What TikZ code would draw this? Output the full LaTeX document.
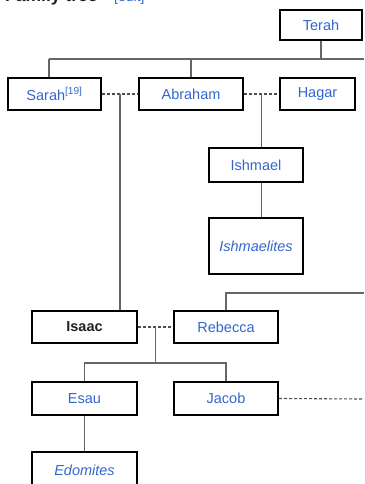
\documentclass[tikz,border=0pt]{standalone}
\usepackage{xcolor}
\usepackage{fontspec}
\setmainfont{Liberation Sans}
\usepackage{tikz}
\usetikzlibrary{positioning, calc}
\definecolor{linkblue}{HTML}{3366CC}
\definecolor{wikigray}{HTML}{666666}
\definecolor{darktext}{HTML}{202122}

\begin{document}
\begin{tikzpicture}[x=1pt, y=-1pt,
	box/.style = {draw=black, line width=2pt, rectangle, inner sep=0pt, text=linkblue, font=\fontsize{14.5}{17}\selectfont},
	line/.style = {draw=wikigray, line width=1.1pt},
	spouse/.style = {draw=darktext!80, line width=1.1pt, dash pattern=on 3pt off 2pt}]
	\clip (0,0) rectangle (364,484);
	\useasboundingbox (0,0) rectangle (364,484);

	\node[anchor=base west, font=\bfseries\fontsize{17.5}{20}\selectfont, text=darktext, inner sep=0pt] (title) at (5,1.5) {Family tree};
	\node[anchor=base west, font=\fontsize{14}{16}\selectfont, text=linkblue, inner sep=0pt] (edit) at (114,1.5) {[edit]};

	\node[box, minimum width=82pt, minimum height=30pt] (terah) at (321,25) {Terah};
	\node[box, minimum width=93pt, minimum height=32pt] (sarah) at (54.5,94) {Sarah\textsuperscript{[19]}};
	\node[box, minimum width=104pt, minimum height=32pt] (abraham) at (191,94) {Abraham};
	\node[box, minimum width=75pt, minimum height=32pt] (hagar) at (317.5,94) {Hagar};
	\node[box, minimum width=94pt, minimum height=34pt] (ishmael) at (256,165) {Ishmael};
	\node[box, minimum width=94pt, minimum height=56pt] (ishmaelites) at (256,246) {\itshape Ishmaelites};
	\node[box, minimum width=105pt, minimum height=32pt, text=darktext, font=\bfseries\fontsize{14.5}{17}\selectfont] (isaac) at (84.5,327) {Isaac};
	\node[box, minimum width=104pt, minimum height=32pt] (rebecca) at (226,327) {Rebecca};
	\node[box, minimum width=105pt, minimum height=33pt] (esau) at (84.5,398.5) {Esau};
	\node[box, minimum width=104pt, minimum height=33pt] (jacob) at (226,398.5) {Jacob};
	\node[box, minimum width=105pt, minimum height=36pt] (edomites) at (84.5,470) {\itshape Edomites};

	\coordinate (bar1) at (49,59);
	\coordinate (bar1end) at (364,59);
	\coordinate (bar2) at (364,293);
	\coordinate (bar3) at (155.5,363);
	\coordinate (jacobend) at (364,399);
	\coordinate (m1) at ($(sarah.east)!0.5!(abraham.west)$);
	\coordinate (m2) at ($(abraham.east)!0.5!(hagar.west)$);
	\coordinate (m3) at ($(isaac.east)!0.5!(rebecca.west)$);

	\draw[line] (bar1) -- (bar1end);
	\draw[line] (terah.south) -- (terah.south |- bar1);
	\draw[line] (bar1) -- (bar1 |- sarah.north);
	\draw[line] (abraham.north) -- (abraham.north |- bar1);

	\draw[spouse] (sarah.east) -- (abraham.west);
	\draw[spouse] (abraham.east) -- (hagar.west);
	\draw[line] (m1) -- (m1 |- isaac.north);
	\draw[line] (m2) -- (m2 |- ishmael.north);
	\draw[line] (ishmael.south -| m2) -- (ishmaelites.north -| m2);

	\draw[line] (rebecca.north) |- (bar2);
	\draw[spouse] (isaac.east) -- (rebecca.west);
	\draw[line] (m3) -- (bar3);
	\draw[line] (esau.north) |- (bar3) -| (jacob.north);
	\draw[line] (esau.south) -- (edomites.north);
	\draw[spouse] (jacob.east) -- (jacobend);

\end{tikzpicture}
\end{document}
